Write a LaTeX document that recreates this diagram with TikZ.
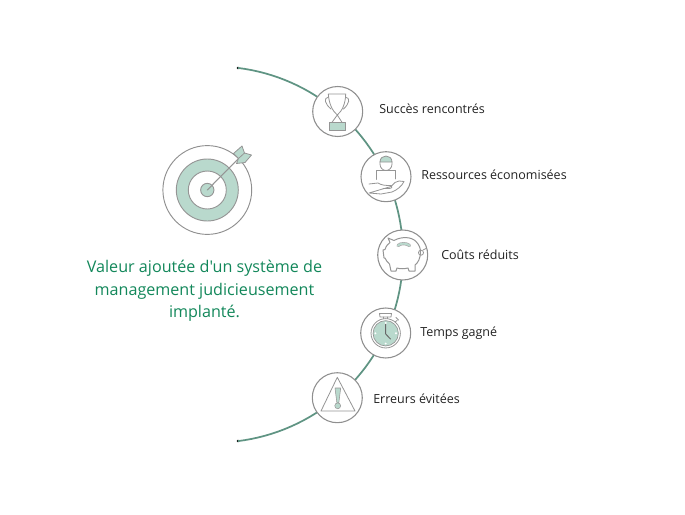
\documentclass[tikz,border=0pt]{standalone}
\usepackage{fontspec}
\newfontfamily\osans{Open Sans}
\definecolor{mint}{HTML}{B9D9CD}
\definecolor{arcc}{HTML}{5F9483}
\definecolor{ico}{HTML}{959595}
\definecolor{ring}{HTML}{8F8F8F}
\definecolor{titlec}{HTML}{12875A}
\definecolor{lab}{HTML}{222222}
\tikzset{
 badge/.style={circle,draw=ring,line width=0.8pt,fill=white,minimum size=37.5pt,inner sep=0pt},
 lbl/.style={font=\osans\fontsize{9.38pt}{12pt}\selectfont,text=lab,anchor=west,inner sep=0pt},
 icon/.style={draw=ico,line width=0.6pt,line join=round,line cap=round},
 iconf/.style={icon,fill=mint},
 enddot/.style={circle,fill=black,minimum size=2pt,inner sep=0pt}
}
\begin{document}
\begin{tikzpicture}[x=0.75pt,y=-0.75pt]
\useasboundingbox (0,0) rectangle (685,514);
% arc
\node[enddot] (s) at (238,68) {};
\node[enddot] (e) at (238,441) {};
\draw[arcc,line width=1.3pt] plot[domain=-83:83,samples=80] ({215+188*cos(\x)},{254.5+188*sin(\x)});
% badges
\node[badge] (b1) at (337.7,111.5) {};
\node[badge] (b2) at (386,176.7) {};
\node[badge] (b3) at (402.7,255) {};
\node[badge] (b4) at (385.7,333) {};
\node[badge] (b5) at (337.3,397.7) {};
% labels
\node[lbl] (l1) at (379,108.4) {Succès rencontrés};
\node[lbl] (l2) at (421,174.4) {Ressources économisées};
\node[lbl] (l3) at (441,254.4) {Coûts réduits};
\node[lbl] (l4) at (420,333.4) {Temps gagné};
\node[lbl] (l5) at (373,398.4) {Erreurs évitées};
% title
\node[font=\osans\fontsize{12.1pt}{17pt}\selectfont,text=titlec,align=center,inner sep=0pt] (t) at (204.5,291)
 {Valeur ajoutée d'un système de\\management judicieusement\\implanté.};
% target
\node[circle,draw=ring,line width=0.7pt,minimum size=66.6pt,inner sep=0pt] (t0) at (207.3,190) {};
\node[circle,draw=ico,line width=0.7pt,fill=mint,minimum size=46.5pt,inner sep=0pt] (t1) at (207.3,190) {};
\node[circle,draw=ico,line width=0.7pt,fill=white,minimum size=28.5pt,inner sep=0pt] (t2) at (207.3,190) {};
\node[circle,draw=ico,line width=0.7pt,fill=mint,minimum size=10pt,inner sep=0pt] (t3) at (207.3,190) {};
\draw[icon,line width=0.8pt] (207.3,190) -- (239,158);
\draw[iconf] (238.5,158.5) -- (233.5,153.5) -- (242,146) -- (244.5,153) -- (251.5,155) -- (245,162.5) -- (236.5,163.5) -- cycle;
\draw[icon] (239,158) -- (244.5,153);
% trophy
\draw[icon] (328.3,94) -- (345.7,94) .. controls (345.5,104) and (342,111) .. (337.3,115) .. controls (332.5,111) and (329,104) .. (328.3,94) -- cycle;
\draw[icon] (328.5,97) .. controls (323,98) and (325,104) .. (331,109);
\draw[icon] (345.5,97) .. controls (351,98) and (349,104) .. (343.5,109);
\draw[icon] (337.3,115) -- (332,122.3) (337.3,115) -- (342,122.3);
\draw[iconf] (329.3,122.3) rectangle (345.7,130.7);
% person and hand
\draw[icon] (380,162) -- (380,164) .. controls (380,168) and (383,170.5) .. (386,170.5) .. controls (389,170.5) and (392,168) .. (392,164) -- (392,162);
\draw[iconf] (380,162) .. controls (380,158) and (383,156) .. (386,156) .. controls (389,156) and (392,158) .. (392,162) -- cycle;
\draw[icon] (376.5,170.5) -- (395.5,170.5);
\draw[icon] (376.5,170.5) -- (376.5,179.5) (395.5,170.5) -- (395.5,179);
\draw[icon] (369,184) -- (378,183) .. controls (382,185.5) and (386,185.5) .. (391,185.5) .. controls (393,186.5) and (392,188.5) .. (389,188.5) -- (383,188.5) (391,186.5) -- (395,182.5) -- (399,181) -- (404,181.5) .. controls (402,186) and (397,190) .. (392,192) -- (381,194) -- (369,193) -- cycle;
% piggy
\draw[icon,line width=0.75pt] (388,238) -- (394,240.5) .. controls (402,236) and (412,237) .. (416,241.5) .. controls (419,244.5) and (420.5,248) .. (420.5,252)
 .. controls (420.5,258) and (418,263) .. (415,265) -- (415,271) -- (409,271) -- (408,268) .. controls (404,269) and (400,269) .. (397,268) -- (396,271) -- (391,271) -- (389.5,264) .. controls (387,262) and (386,260) .. (385,258) -- (384,258) -- (383,250) -- (385,249.5) .. controls (386,246) and (388,244) .. (390,242.5) -- cycle;
\draw[draw=ico!80,line width=2.4pt,line cap=round] (398,245.5) .. controls (401,243) and (406,243) .. (409.5,245.5);
\draw[draw=mint,line width=1.4pt,line cap=round] (398,245.5) .. controls (401,243) and (406,243) .. (409.5,245.5);
\draw[icon] (421,252.7) circle (1.9pt);
\draw[icon] (423,250) -- (426,248.5);
% clock
\draw[icon] (379.5,313.5) -- (391.5,313.5) -- (391,317) -- (380,317) -- cycle;
\draw[icon] (383.5,317) -- (383.5,319.5) (387.5,317) -- (387.5,319.5);
\draw[icon] (396,317.5) -- (398.5,320) (397,320.5) -- (394,323);
\node[circle,draw=ico,line width=0.6pt,fill=white,minimum size=22pt,inner sep=0pt] (c0) at (385.7,333.3) {};
\node[circle,draw=ico,line width=0.5pt,fill=mint,minimum size=19pt,inner sep=0pt] (c1) at (385.7,333.3) {};
\draw[icon,line width=0.7pt,draw=ico!70!black] (385.7,323.5) -- (385.7,334) -- (390.5,339);
\foreach \a/\b in {385.7/323,396/333.3,385.7/343.6,375.4/333.3}
 \fill[white] (\a,\b) circle (0.8pt);
% warning
\draw[icon] (337.3,377.3) -- (355,411) -- (321,411) -- cycle;
\draw[iconf,line width=0.4pt] (335,388) -- (340.7,388) -- (338.8,403) -- (336.9,403) -- cycle;
\node[circle,draw=ico,line width=0.4pt,fill=mint,minimum size=4.4pt,inner sep=0pt] (w) at (337.7,405.8) {};
\end{tikzpicture}
\end{document}
